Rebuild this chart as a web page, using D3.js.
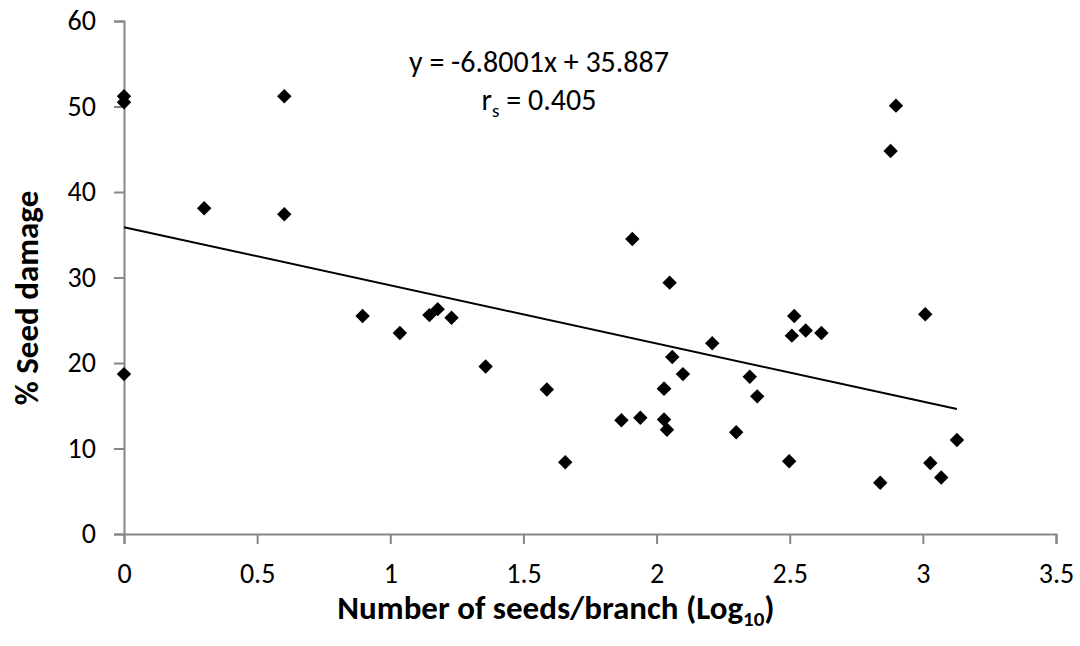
<!DOCTYPE html>
<html lang="en">
<head>
    <meta charset="UTF-8">
    <title>Seed damage vs number of seeds</title>

    <style>

        body
        {
            margin: 0;
            background: #ffffff;
        }

        text
        {
            font-family: Calibri, Carlito, Lato, sans-serif;
            fill: #000000;
        }

        .tick text
        {
            font-size: 28px;
        }

        .domain, .tick line
        {
            stroke: #868686;
            stroke-width: 2px;
        }

        .axis-label
        {
            font-size: 33px;
            font-weight: bold;
        }

        .equation
        {
            font-size: 30px;
        }

    </style>
</head>
<body>

    <svg width="1080" height="646"></svg>

    <script src="https://d3js.org/d3.v7.min.js"></script>

    <script>

        // Log10 number of seeds per branch
        const seedsLog = [
            0, 0, 0, 0.301, 0.602, 0.602, 0.896, 1.036, 1.147, 1.178,
            1.230, 1.358, 1.588, 1.657, 1.868, 1.909, 1.939, 2.028, 2.028, 2.028,
            2.039, 2.049, 2.059, 2.099, 2.209, 2.299, 2.350, 2.378, 2.498, 2.508,
            2.517, 2.560, 2.619, 2.840, 2.879, 2.899, 3.009, 3.028, 3.069, 3.128
        ];

        // % seed damage, same order
        const seedDamage = [
            51.2, 50.5, 18.7, 38.1, 51.2, 37.4, 25.5, 23.5, 25.6, 26.3,
            25.3, 19.6, 16.9, 8.4, 13.3, 34.5, 13.6, 17.0, 13.4, 17.0,
            12.2, 29.4, 20.7, 18.7, 22.3, 11.9, 18.4, 16.1, 8.5, 23.2,
            25.5, 23.8, 23.5, 6.0, 44.8, 50.1, 25.7, 8.3, 6.6, 11.0
        ];

        const xTicks = [0, 0.5, 1, 1.5, 2, 2.5, 3, 3.5];
        const yTicks = [0, 10, 20, 30, 40, 50, 60];

        // Linear trendline shown on the chart
        const slope = -6.8001;
        const intercept = 35.887;
        const rs = 0.405;

        const svg = d3.select('svg');

        const margin = { left: 124, right: 24, top: 21, bottom: 112 };
        const width = +svg.attr('width');
        const height = +svg.attr('height');

        const xScale = d3.scaleLinear()
            .domain([0, 3.5])
            .range([margin.left, width - margin.right]);

        const yScale = d3.scaleLinear()
            .domain([0, 60])
            .range([height - margin.bottom, margin.top]);

        const points = seedsLog.map(function (x, i) {
            return { x: x, y: seedDamage[i] };
        });

        // Axes

        const xAxis = d3.axisBottom(xScale)
            .tickValues(xTicks)
            .tickFormat(d3.format('~g'))
            .tickSizeInner(10)
            .tickSizeOuter(10)
            .tickPadding(19);

        const yAxis = d3.axisLeft(yScale)
            .tickValues(yTicks)
            .tickSizeInner(10)
            .tickSizeOuter(10)
            .tickPadding(18);

        svg.append('g')
            .attr('transform', 'translate(0 ' + yScale(0) + ')')
            .call(xAxis);

        svg.append('g')
            .attr('transform', 'translate(' + xScale(0) + ' 0)')
            .call(yAxis);

        svg.selectAll('.tick text').attr('fill', '#000');

        // Trendline across the data range
        const xExtent = d3.extent(seedsLog);

        svg.append('line')
            .attr('x1', xScale(xExtent[0]))
            .attr('y1', yScale(intercept + slope * xExtent[0]))
            .attr('x2', xScale(xExtent[1]))
            .attr('y2', yScale(intercept + slope * xExtent[1]))
            .attr('stroke', '#000')
            .attr('stroke-width', 2);

        // Diamond markers (squares turned 45 degrees)
        const diamond = d3.symbol().type(d3.symbolSquare).size(104);

        svg.append('g')
            .selectAll('path')
            .data(points)
            .enter()
            .append('path')
            .attr('d', diamond)
            .attr('fill', '#000')
            .attr('transform', function (d) {
                return 'translate(' + xScale(d.x) + ' ' + yScale(d.y) + ') rotate(45)';
            });

        // Equation labels
        const eq = svg.append('text')
            .attr('class', 'equation')
            .attr('text-anchor', 'middle')
            .attr('x', 539)
            .attr('y', 72);

        eq.text('y = ' + slope + 'x + ' + intercept);

        const rsText = svg.append('text')
            .attr('class', 'equation')
            .attr('text-anchor', 'middle')
            .attr('x', 539)
            .attr('y', 110);

        rsText.append('tspan').text('r');
        rsText.append('tspan').attr('font-size', '19px').attr('dy', 7).text('s');
        rsText.append('tspan').attr('dy', -7).text(' = ' + rs);

        // Axis titles
        const xTitle = svg.append('text')
            .attr('class', 'axis-label')
            .attr('text-anchor', 'middle')
            .attr('x', 556)
            .attr('y', 619);

        xTitle.append('tspan').text('Number of seeds/branch (Log');
        xTitle.append('tspan').attr('font-size', '21px').attr('dy', 7).text('10');
        xTitle.append('tspan').attr('dy', -7).text(')');

        svg.append('text')
            .attr('class', 'axis-label')
            .attr('text-anchor', 'middle')
            .attr('transform', 'translate(38 298) rotate(-90)')
            .text('% Seed damage');

    </script>

</body>
</html>
